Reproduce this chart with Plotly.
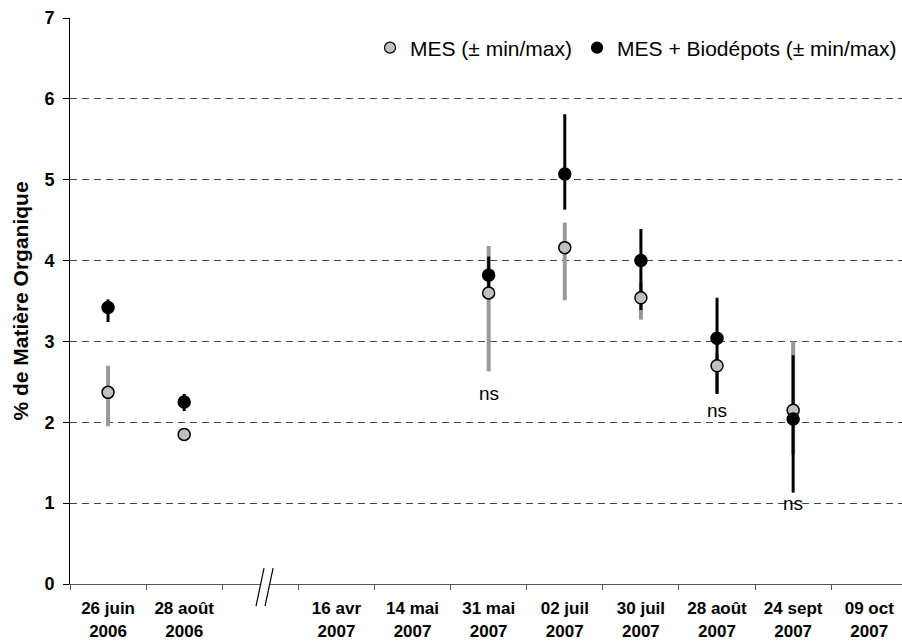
import plotly.graph_objects as go

# ---- data ----
categories = ["26 juin<br>2006", "28 août<br>2006", " ", "16 avr<br>2007", "14 mai<br>2007",
              "31 mai<br>2007", "02 juil<br>2007", "30 juil<br>2007", "28 août<br>2007",
              "24 sept<br>2007", "09 oct<br>2007"]
sample_dates = ["26 juin<br>2006", "28 août<br>2006", "31 mai<br>2007", "02 juil<br>2007",
                "30 juil<br>2007", "28 août<br>2007", "24 sept<br>2007"]

mes_mean = [2.37, 1.85, 3.60, 4.16, 3.54, 2.70, 2.15]
mes_min = [1.95, 1.77, 2.63, 3.51, 3.27, 2.36, 1.60]
mes_max = [2.70, 1.92, 4.18, 4.47, 3.73, 2.85, 3.00]

bio_mean = [3.42, 2.25, 3.82, 5.07, 4.00, 3.04, 2.04]
bio_min = [3.24, 2.14, 3.60, 4.63, 3.39, 2.35, 1.13]
bio_max = [3.52, 2.35, 4.05, 5.81, 4.39, 3.54, 2.83]

ns_dates = ["31 mai<br>2007", "28 août<br>2007", "24 sept<br>2007"]
ns_y = [2.36, 2.14, 0.99]

FONT = "Liberation Sans, Arial, sans-serif"

def err(mean, lo, hi):
    return dict(type="data", symmetric=False,
                array=[h - m for m, h in zip(mean, hi)],
                arrayminus=[m - l for m, l in zip(mean, lo)])

fig = go.Figure()

# error bars (gray first, then black)
fig.add_trace(go.Scatter(
    x=sample_dates, y=mes_mean, mode="markers",
    marker=dict(size=1, color="rgba(0,0,0,0)"),
    error_y=dict(**err(mes_mean, mes_min, mes_max), color="#999999", thickness=4, width=0),
    showlegend=False, hoverinfo="skip"))
fig.add_trace(go.Scatter(
    x=sample_dates, y=bio_mean, mode="markers",
    marker=dict(size=1, color="rgba(0,0,0,0)"),
    error_y=dict(**err(bio_mean, bio_min, bio_max), color="#000000", thickness=3, width=0),
    showlegend=False, hoverinfo="skip"))
# markers
fig.add_trace(go.Scatter(
    x=sample_dates, y=mes_mean, mode="markers", name="MES (± min/max)",
    marker=dict(size=12, color="#c0c0c0", line=dict(color="black", width=1.5)),
    showlegend=False))
fig.add_trace(go.Scatter(
    x=sample_dates, y=bio_mean, mode="markers", name="MES + Biodépots (± min/max)",
    marker=dict(size=12, color="black", line=dict(color="black", width=1.5)),
    showlegend=False))
# legend entries
fig.add_trace(go.Scatter(
    x=[None], y=[None], mode="markers", name="MES (± min/max)",
    marker=dict(size=11, color="#c0c0c0", line=dict(color="black", width=1.2))))
fig.add_trace(go.Scatter(
    x=[None], y=[None], mode="markers", name="MES + Biodépots (± min/max)",
    marker=dict(size=11, color="black", line=dict(color="black", width=1.2))))

for d, yv in zip(ns_dates, ns_y):
    fig.add_annotation(x=d, y=yv, text="ns", showarrow=False,
                       font=dict(family=FONT, size=19, color="black"))

# axis break marks
fig.add_shape(type="rect", xref="x", yref="paper", x0=2.016, x1=2.111, y0=-0.004, y1=0.004,
              line=dict(width=0), fillcolor="white", layer="above")
for x0, x1 in [(1.944, 2.049), (2.062, 2.168)]:
    fig.add_shape(type="line", xref="x", yref="paper", x0=x0, x1=x1, y0=-0.039, y1=0.028,
                  line=dict(color="black", width=1.2), layer="above")

fig.update_layout(
    width=902, height=642,
    margin=dict(l=70, r=0, t=18, b=58),
    paper_bgcolor="white", plot_bgcolor="white",
    font=dict(family=FONT, color="black"),
    showlegend=True,
    legend=dict(orientation="h", x=1.0, xanchor="right", y=0.947, yanchor="middle",
                font=dict(family=FONT, size=21, color="black"),
                bgcolor="rgba(0,0,0,0)", itemwidth=30, tracegroupgap=0),
    xaxis=dict(type="category", categoryorder="array", categoryarray=categories,
               range=[-0.5, 10.43], tickson="boundaries",
               ticks="outside", ticklen=5, tickcolor="#555555",
               showline=True, linecolor="#555555", linewidth=1,
               showgrid=False, zeroline=False, ticklabelstandoff=9,
               tickfont=dict(family=FONT, size=17, color="black", weight="bold")),
    yaxis=dict(range=[0, 7], dtick=1, ticks="outside", ticklen=6, tickcolor="black",
               showline=True, linecolor="black", linewidth=1,
               showgrid=True, gridcolor="#444444", gridwidth=1, griddash="7px,5px",
               zeroline=False, ticklabelstandoff=5,
               tickfont=dict(family=FONT, size=18, color="black", weight="bold"),
               title=dict(text="% de Matière Organique", standoff=10,
                          font=dict(family=FONT, size=21, color="black", weight="bold"))),
)

fig.write_html("out.html")
